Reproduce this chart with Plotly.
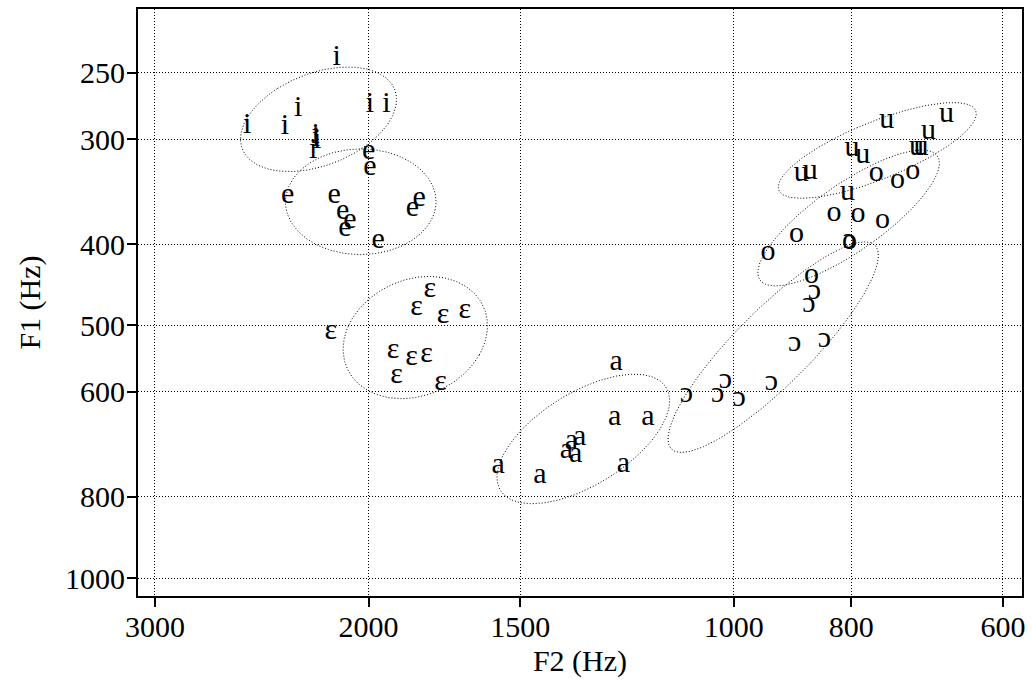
import numpy as np
import plotly.graph_objects as go

# ---- data (Hz) ----
vowels = ["i", "e", "ɛ", "a", "ɔ", "o", "u"]

i_F2 = [2125, 2518, 2344, 2286, 2211, 2205, 2210, 2222, 1995, 1933]
i_F1 = [240, 289, 290, 276, 297, 301, 299, 309, 273, 273]

e_F2 = [2000, 1995, 2332, 2135, 2101, 2072, 2092, 1964, 1840, 1817]
e_F1 = [310, 324, 350, 350, 366, 375, 383, 396, 363, 353]

eps_F2 = [1781, 1826, 1736, 1666, 2149, 1909, 1843, 1792, 1897, 1745]
eps_F1 = [453, 476, 486, 480, 509, 536, 546, 542, 573, 584]

a_F2 = [1250, 1254, 1177, 1340, 1361, 1374, 1350, 1564, 1445, 1233]
a_F1 = [554, 644, 644, 680, 688, 705, 713, 735, 755, 732]

oo_F2 = [803, 858, 867, 891, 842, 931, 1016, 1031, 990, 1094]
oo_F1 = [396, 455, 472, 526, 520, 585, 582, 604, 611, 605]

o_F2 = [763, 733, 712, 827, 790, 754, 888, 937, 803, 863]
o_F1 = [330, 336, 328, 368, 369, 375, 390, 409, 397, 436]

u_F2 = [748, 668, 691, 707, 701, 799, 783, 880, 865, 806]
u_F1 = [285, 280, 294, 307, 307, 308, 314, 330, 328, 347]

F2_ticks = [3000, 2000, 1500, 1000, 800, 600]
F1_ticks = [250, 300, 400, 500, 600, 800, 1000]

groups = [
    ("i", i_F2, i_F1),
    ("e", e_F2, e_F1),
    ("ɛ", eps_F2, eps_F1),
    ("a", a_F2, a_F1),
    ("ɔ", oo_F2, oo_F1),
    ("o", o_F2, o_F1),
    ("u", u_F2, u_F1),
]

SD = 1.96
FONT = "Liberation Serif, Times New Roman, serif"


def sd_ellipse(f2, f1, k=SD, n=240):
    pts = np.log10(np.column_stack([f2, f1]))
    mu = pts.mean(axis=0)
    cov = np.cov(pts, rowvar=False)
    vals, vecs = np.linalg.eigh(cov)
    t = np.linspace(0, 2 * np.pi, n)
    circ = np.vstack([np.cos(t), np.sin(t)])
    ell = vecs @ (np.sqrt(vals)[:, None] * k * circ) + mu[:, None]
    return 10 ** ell[0], 10 ** ell[1]


fig = go.Figure()

for sym, f2, f1 in groups:
    ex, ey = sd_ellipse(f2, f1)
    fig.add_trace(go.Scatter(
        x=ex, y=ey, mode="lines",
        line=dict(color="black", width=1, dash="1px,2px"),
        hoverinfo="skip", showlegend=False))

for sym, f2, f1 in groups:
    fig.add_trace(go.Scatter(
        x=f2, y=f1, mode="text", text=[sym] * len(f2),
        textposition="middle center",
        textfont=dict(family=FONT, size=30, color="black"),
        showlegend=False, name=sym))

axis_common = dict(
    type="log",
    showgrid=True, gridcolor="black", gridwidth=1, griddash="1px,2px",
    ticks="outside", ticklen=9, tickwidth=2, tickcolor="black",
    showline=True, linecolor="black", linewidth=2, mirror=True,
    zeroline=False,
    tickfont=dict(family=FONT, size=30, color="black"),
)

fig.update_xaxes(
    **axis_common,
    range=[np.log10(3098), np.log10(578.7)],
    tickvals=F2_ticks, ticktext=[str(v) for v in F2_ticks],
    ticklabelstandoff=-6,
    title=dict(text="F2 (Hz)", font=dict(family=FONT, size=30, color="black"), standoff=8),
)
fig.update_yaxes(
    **axis_common,
    range=[np.log10(1050), np.log10(209.9)],
    tickvals=F1_ticks, ticktext=[str(v) for v in F1_ticks],
    ticklabelstandoff=-4,
    title=dict(text="F1 (Hz)", font=dict(family=FONT, size=30, color="black"), standoff=16),
)

fig.update_layout(
    width=1032, height=686,
    margin=dict(l=138, r=10, t=7, b=90),
    paper_bgcolor="white", plot_bgcolor="white",
    showlegend=False,
    font=dict(family=FONT, color="black"),
)

fig.write_html("out.html")
